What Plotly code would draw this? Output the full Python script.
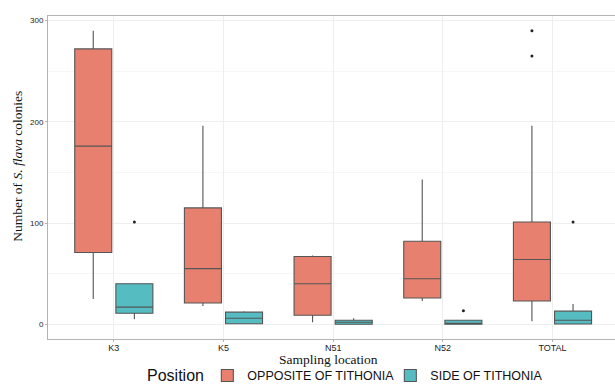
import plotly.graph_objects as go

categories = ["K3", "K5", "N51", "N52", "TOTAL"]

opp_lower = [25, 18, 2, 23, 3]
opp_q1 = [71, 21, 9, 26, 23]
opp_median = [176, 55, 40, 45, 64]
opp_q3 = [272, 115, 67, 82, 101]
opp_upper = [290, 196, 68, 143, 196]
opp_out_x = ["TOTAL", "TOTAL"]
opp_out_y = [290, 265]

side_lower = [5, 0, 0, 0, 0]
side_q1 = [11, 0.5, 0, 0, 0.3]
side_median = [17, 6, 2, 0.5, 4]
side_q3 = [40, 12, 4, 4, 13]
side_upper = [40, 13, 6, 4, 20]
side_out_x = ["K3", "N52", "TOTAL"]
side_out_y = [101, 13.5, 101]

opp_color = "#E8806F"
side_color = "#55BDC2"
line_color = "#555555"

W, H = 615, 391
ML, MR, MT, MB = 48, 0, 16, 47
PW, PH = W - ML - MR, H - MT - MB

fig = go.Figure()
fig.add_trace(go.Box(
    x=categories, q1=opp_q1, median=opp_median, q3=opp_q3,
    lowerfence=opp_lower, upperfence=opp_upper,
    name="OPPOSITE OF TITHONIA", offsetgroup="opp", whiskerwidth=0,
    fillcolor=opp_color, line=dict(color=line_color, width=1.1),
    boxpoints=False, legendgroup="opp"))
fig.add_trace(go.Box(
    x=categories, q1=side_q1, median=side_median, q3=side_q3,
    lowerfence=side_lower, upperfence=side_upper,
    name="SIDE OF TITHONIA", offsetgroup="side", whiskerwidth=0,
    fillcolor=side_color, line=dict(color=line_color, width=1.1),
    boxpoints=False, legendgroup="side"))
fig.add_trace(go.Scatter(
    x=opp_out_x, y=opp_out_y, mode="markers", offsetgroup="opp",
    marker=dict(color="#222222", size=3), showlegend=False, legendgroup="opp"))
fig.add_trace(go.Scatter(
    x=side_out_x, y=side_out_y, mode="markers", offsetgroup="side",
    marker=dict(color="#222222", size=3), showlegend=False, legendgroup="side"))

legend_y = -0.114

fig.update_layout(
    width=W, height=H,
    margin=dict(l=ML, r=MR, t=MT, b=MB),
    paper_bgcolor="white", plot_bgcolor="white",
    boxmode="group", boxgap=0.25, boxgroupgap=0.1,
    scattermode="group", scattergap=0.25,
    showlegend=True,
    legend=dict(orientation="h", x=0.281, xanchor="left", y=legend_y, yanchor="middle",
                font=dict(family="Liberation Sans", size=12.5, color="#111"),
                entrywidth=138, entrywidthmode="pixels",
                tracegroupgap=0),
    xaxis=dict(type="category", categoryorder="array", categoryarray=categories,
               range=[-0.6, 4.57], showgrid=True, gridcolor="#EEEEEE", gridwidth=1,
               showline=True, mirror=True, linecolor="#B3B3B3", linewidth=1,
               ticks="outside", ticklen=2, tickcolor="#B3B3B3", ticklabelstandoff=-2,
               tickfont=dict(family="Liberation Sans", size=9, color="#222"),
               automargin=False, zeroline=False),
    yaxis=dict(range=[-14.5, 304.5], tickvals=[0, 100, 200, 300],
               showgrid=True, gridcolor="#EEEEEE", gridwidth=1,
               minor=dict(tickvals=[50, 150, 250], showgrid=True, gridcolor="#F6F6F6", gridwidth=1),
               showline=True, mirror=False, linecolor="#B3B3B3", linewidth=1,
               ticks="outside", ticklen=2, tickcolor="#B3B3B3",
               tickfont=dict(family="Liberation Sans", size=8, color="#222"),
               automargin=False, zeroline=False),
    shapes=[
        dict(type="rect", xref="paper", yref="paper",
             x0=-ML / PW, x1=1 + MR / PW, y0=-MB / PH, y1=1 + MT / PH,
             fillcolor="white", line=dict(width=0), layer="below"),
    ],
    annotations=[
        dict(text="Sampling location", xref="paper", yref="paper", x=0.494, y=-0.064,
             xanchor="center", yanchor="middle", showarrow=False,
             font=dict(family="Liberation Serif", size=13.5, color="#111")),
        dict(text="Number of <i>S. flava</i> colonies", xref="paper", yref="paper",
             x=-0.053, y=0.536, textangle=-90, xanchor="center", yanchor="middle",
             showarrow=False, font=dict(family="Liberation Serif", size=13.5, color="#111")),
        dict(text="Position", xref="paper", yref="paper", x=0.171, y=legend_y,
             xanchor="left", yanchor="middle", showarrow=False,
             font=dict(family="Liberation Sans", size=16, color="#111")),
    ],
)

fig.write_html("out.html", config={"displayModeBar": False},
               post_script="document.body.style.margin='0';document.body.style.overflow='hidden';")
